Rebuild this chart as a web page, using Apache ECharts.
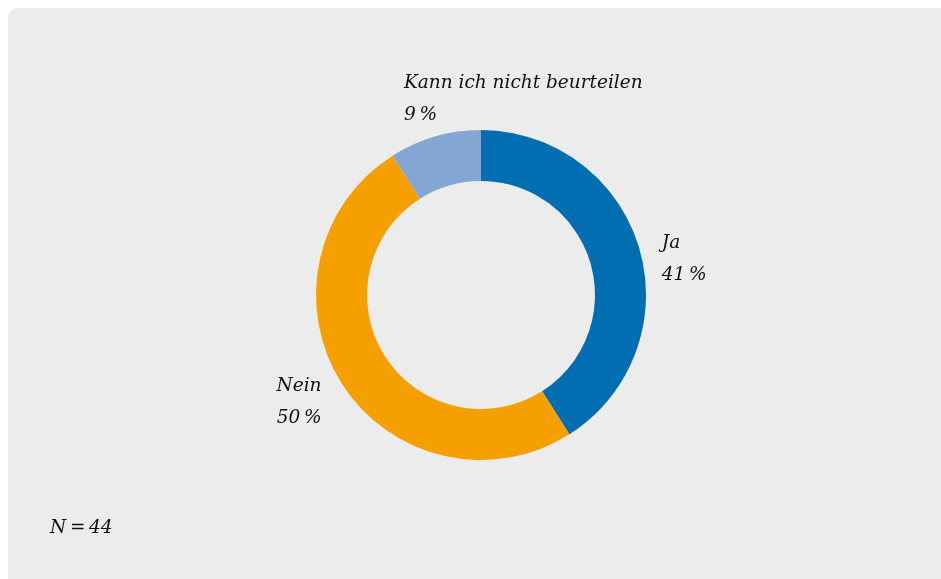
<!DOCTYPE html>
<html>
<head>
<meta charset="utf-8">
<script src="https://cdn.jsdelivr.net/npm/echarts@6/dist/echarts.min.js"></script>
<style>
html,body{margin:0;padding:0;background:#fff;}
#chart{width:941px;height:579px;}
</style>
</head>
<body>
<div id="chart"></div>
<script>
var categories = ['Ja', 'Nein', 'Kann ich nicht beurteilen'];
var values = [41, 50, 9];
var colors = ['#006eb0', '#f5a000', '#84a6d3'];
var sampleNote = 'N\u2009=\u200944';

var labelAdjust = [
  { dx: 0, dy: 15 },
  { dx: 0, dy: 9 },
  { dx: -21, dy: -20, align: 'left' }
];

var chart = echarts.init(document.getElementById('chart'), null, { renderer: 'canvas' });
var font = '"DejaVu Serif", serif';

chart.setOption({
  backgroundColor: '#ffffff',
  animation: false,
  graphic: [
    { type: 'rect', z: -10, shape: { x: 8, y: 8, width: 980, height: 620, r: 10 },
      style: { fill: '#ebeceb' } },
    { type: 'text', left: 50, top: 519,
      style: { text: sampleNote, font: 'italic 18.5px ' + font, fill: '#111111' } }
  ],
  series: [{
    type: 'pie',
    center: [481, 295],
    radius: [114, 165],
    startAngle: 90,
    clockwise: true,
    silent: true,
    avoidLabelOverlap: false,
    label: {
      show: true,
      position: 'outside',
      formatter: function (p) { return p.name + '\n' + p.value + '\u2009%'; },
      fontFamily: font,
      fontStyle: 'italic',
      fontSize: 18.5,
      lineHeight: 32,
      color: '#111111',
      distanceToLabelLine: 5
    },
    labelLine: { show: false, length: 18, length2: 0 },
    labelLayout: function (p) {
      return labelAdjust[p.dataIndex];
    },
    data: categories.map(function (c, i) {
      return { name: c, value: values[i], itemStyle: { color: colors[i] } };
    })
  }]
});
</script>
</body>
</html>
